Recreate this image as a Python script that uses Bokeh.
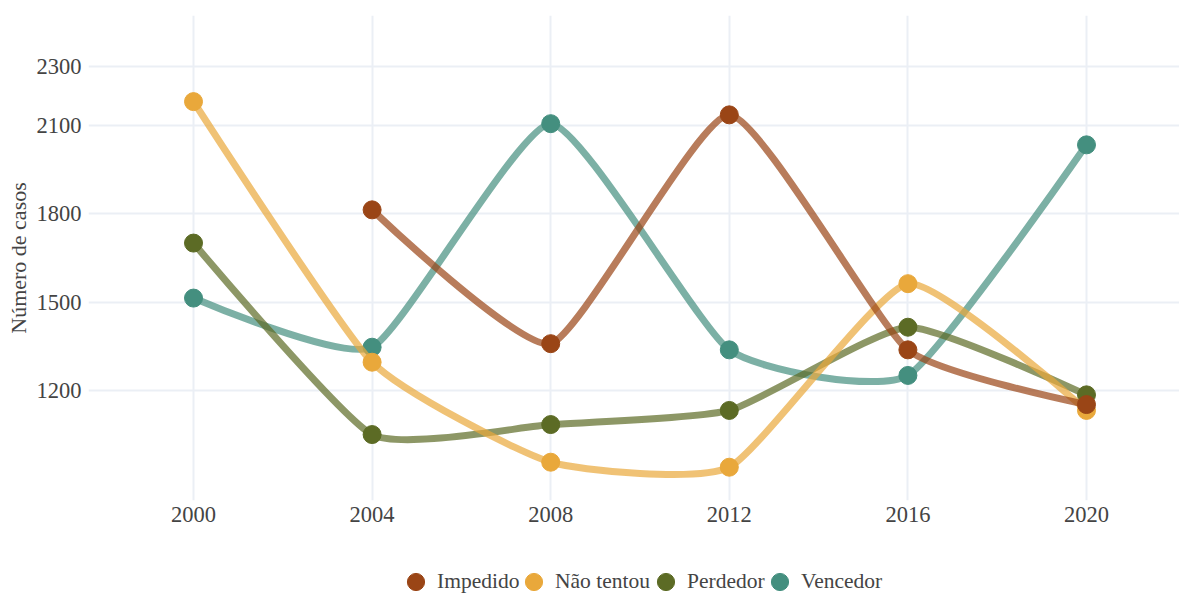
from bokeh.plotting import figure
from bokeh.models import FixedTicker, Legend, LegendItem, Range1d
from bokeh.layouts import column
from bokeh.embed import file_html
from bokeh.resources import INLINE

# ---- data ----
years = [2000, 2004, 2008, 2012, 2016, 2020]
impedido = [None, 1814, 1359, 2137, 1338, 1152]
nao_tentou = [2182, 1296, 956, 939, 1563, 1132]
perdedor = [1701, 1050, 1084, 1132, 1415, 1185]
vencedor = [1514, 1347, 2107, 1338, 1251, 2035]
y_ticks = [1200, 1500, 1800, 2100, 2300]
x_ticks = [2000, 2004, 2008, 2012, 2016, 2020]

names = ["Impedido", "Não tentou", "Perdedor", "Vencedor"]
values = [impedido, nao_tentou, perdedor, vencedor]
colors = ["#9A4516", "#E9A83B", "#5C6B25", "#448F7F"]

FONT = "Liberation Serif"
TXT = "#444444"
K = 1.0 / 12.0  # cardinal spline (tension 0.5)


def cardinal(xs, ys):
    n = len(xs)
    seg = dict(x0=[], y0=[], x1=[], y1=[], cx0=[], cy0=[], cx1=[], cy1=[])
    for i in range(n - 1):
        ip, inn = max(i - 1, 0), min(i + 2, n - 1)
        if i == 0:
            c0x, c0y = xs[0], ys[0]
        else:
            c0x = xs[i] + K * (xs[i + 1] - xs[ip])
            c0y = ys[i] + K * (ys[i + 1] - ys[ip])
        if i + 1 == n - 1:
            c1x, c1y = xs[n - 1], ys[n - 1]
        else:
            c1x = xs[i + 1] - K * (xs[inn] - xs[i])
            c1y = ys[i + 1] - K * (ys[inn] - ys[i])
        seg["x0"].append(xs[i]); seg["y0"].append(ys[i])
        seg["x1"].append(xs[i + 1]); seg["y1"].append(ys[i + 1])
        seg["cx0"].append(c0x); seg["cy0"].append(c0y)
        seg["cx1"].append(c1x); seg["cy1"].append(c1y)
    return seg


p = figure(width=1179, height=545, output_backend="svg", toolbar_location=None,
           x_range=Range1d(1997.648, 2022.083), y_range=Range1d(825.8, 2474.8),
           min_border_left=88, min_border_right=0, min_border_top=15, min_border_bottom=45)
p.outline_line_color = None
p.background_fill_color = "white"
p.border_fill_color = "white"

for g in (p.xgrid, p.ygrid):
    g.grid_line_color = "#EBEFF5"
    g.grid_line_width = 2
p.xgrid.ticker = FixedTicker(ticks=x_ticks)
p.ygrid.ticker = FixedTicker(ticks=y_ticks)

p.xaxis.ticker = FixedTicker(ticks=x_ticks)
p.yaxis.ticker = FixedTicker(ticks=y_ticks)
for ax in (p.xaxis, p.yaxis):
    ax.axis_line_color = None
    ax.major_tick_line_color = None
    ax.minor_tick_line_color = None
    ax.major_tick_out = 0
    ax.major_tick_in = 0
    ax.major_label_text_font = FONT
    ax.major_label_text_font_size = "22.5px"
    ax.major_label_text_color = TXT
p.xaxis.major_label_standoff = 6
p.yaxis.major_label_standoff = 7
p.yaxis.axis_label = "Número de casos"
p.yaxis.axis_label_text_font = FONT
p.yaxis.axis_label_text_font_size = "22px"
p.yaxis.axis_label_text_font_style = "normal"
p.yaxis.axis_label_text_color = TXT
p.yaxis.axis_label_standoff = 3

# draw order: last series first so "Impedido" ends on top
for name, vals, col in reversed(list(zip(names, values, colors))):
    xs = [x for x, v in zip(years, vals) if v is not None]
    ys = [v for v in vals if v is not None]
    p.bezier(line_color=col, line_alpha=0.7, line_width=7, line_cap="round", **cardinal(xs, ys))
    p.scatter(xs, ys, size=18, fill_color=col, line_color=col, line_width=1)

# ---- legend strip (its range hides the data, only the legend swatches show) ----
pl = figure(width=1179, height=49, output_backend="svg", toolbar_location=None,
            x_range=Range1d(0, 1), y_range=Range1d(0, 1), x_axis_type=None, y_axis_type=None,
            min_border_left=0, min_border_right=0, min_border_top=0, min_border_bottom=0)
pl.outline_line_color = None
pl.grid.visible = False
pl.border_fill_color = "white"
leg_x = [306, 424, 556, 670]
for name, vals, col, lx in zip(names, values, colors, leg_x):
    xs = [x for x, v in zip(years, vals) if v is not None]
    ys = [v for v in vals if v is not None]
    r = pl.scatter(xs, ys, size=18, fill_color=col, line_color=col, line_width=1)
    lg = Legend(items=[LegendItem(label=name, renderers=[r])], orientation="horizontal",
                location=(lx, -9), glyph_width=43, glyph_height=43, label_standoff=0,
                spacing=0, padding=0, margin=0, border_line_color=None,
                background_fill_alpha=0, label_text_font=FONT,
                label_text_font_size="21.5px", label_text_color=TXT)
    pl.add_layout(lg, "center")

open("out.html", "w").write(file_html(column(p, pl, spacing=0), INLINE))
